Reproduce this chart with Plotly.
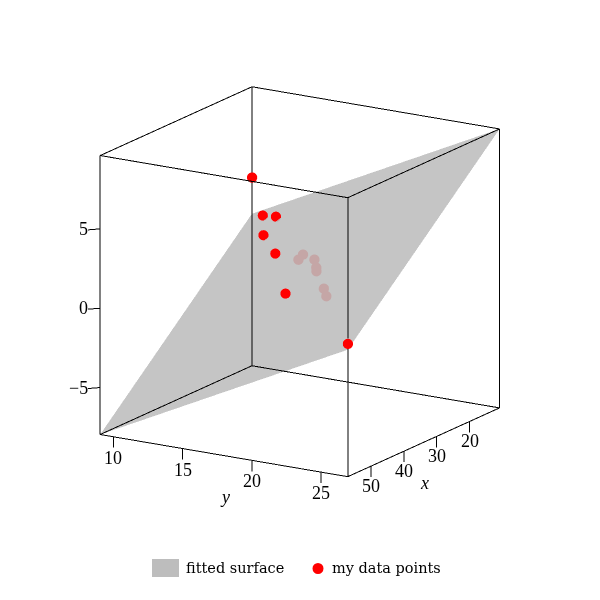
import plotly.graph_objects as go

# the box the chart is drawn in
x0, x1 = 10.95, 57.0
y0, y1 = 9.04, 26.94
z0, z1 = -7.96, 9.62

# tick values
x_ticks = [20, 30, 40, 50]
y_ticks = [10, 15, 20, 25]
z_ticks = [-5, 0, 5]

# surface grid
surf_x = [10.95, 57.0]
surf_y = [9.04, 26.94]
surf_z = [[1.62, -7.96], [9.62, 0.04]]

# data points
pts_x = [10.95, 13.49, 15.04, 19.0, 25.26, 37.36, 57.0, 25.30, 24.37, 26.87, 29.25, 30.28, 35.84, 38.19]
pts_y = [9.04, 10.42, 11.74, 11.78, 14.13, 17.75, 26.94, 15.81, 15.92, 17.34, 18.04, 18.30, 20.16, 20.90]
pts_z = [3.91, 1.96, 2.23, 1.44, 1.22, 0.376, 0.42, 1.09, 1.34, 1.47, 1.29, 1.20, 0.90, 0.756]

# scene ranges leave room for the tick marks outside the box
x_range = [10.85, 59.0]
y_range = [8.4, 27.04]
z_range = [-8.8, 9.72]
K = 0.968
box_side = {"x": x1 - x0, "y": y1 - y0, "z": z1 - z0}
aspect = dict(
    x=K * (x_range[1] - x_range[0]) / box_side["x"],
    y=K * (y_range[1] - y_range[0]) / box_side["y"],
    z=K * (z_range[1] - z_range[0]) / box_side["z"],
)

# offset of the box centre from the scene centre, in scene units
def off(a0, a1, rng, asp):
    return ((a0 + a1) / 2 - (rng[0] + rng[1]) / 2) / (rng[1] - rng[0]) * asp

box_off = (off(x0, x1, x_range, aspect["x"]), off(y0, y1, y_range, aspect["y"]), off(z0, z1, z_range, aspect["z"]))
view = (1.548, 0.949, 0.525)
nudge = (-0.0142, 0.0231, -0.0912)
cam_center = tuple(b + n for b, n in zip(box_off, nudge))
cam_eye = tuple(c + v for c, v in zip(cam_center, view))

SERIF = "Liberation Serif"
TICK_LEN_Z = 0.69
hidden_axis = dict(
    showbackground=False, showgrid=False, zeroline=False, showspikes=False,
    showline=False, ticks="", showticklabels=False, title=dict(text=""),
)

# the twelve edges of the box
box_x, box_y, box_z = [], [], []
for zz in (z0, z1):
    box_x += [x0, x1, x1, x0, x0, None]
    box_y += [y0, y0, y1, y1, y0, None]
    box_z += [zz, zz, zz, zz, zz, None]
for xx, yy in ((x0, y0), (x1, y0), (x1, y1), (x0, y1)):
    box_x += [xx, xx, None]
    box_y += [yy, yy, None]
    box_z += [z0, z1, None]
# tick marks
for v in x_ticks:
    box_x += [v, v, None]
    box_y += [y1, y1, None]
    box_z += [z0, z0 - TICK_LEN_Z, None]
for v in y_ticks:
    box_x += [x1, x1, None]
    box_y += [v, v, None]
    box_z += [z0, z0 - TICK_LEN_Z, None]
for v in z_ticks:
    box_x += [x1, x1 + 1.49, None]
    box_y += [y0, y0 - 0.517, None]
    box_z += [v, v, None]

fig = go.Figure()
fig.add_trace(go.Surface(
    x=surf_x, y=surf_y, z=surf_z, name="fitted surface", showlegend=False,
    colorscale=[[0, "#bdbdbd"], [1, "#bdbdbd"]], showscale=False, opacity=0.88,
    lighting=dict(ambient=1, diffuse=0, specular=0, roughness=1, fresnel=0),
    hoverinfo="skip",
))
fig.add_trace(go.Scatter3d(
    x=box_x, y=box_y, z=box_z, mode="lines", showlegend=False, hoverinfo="skip",
    opacity=0.99, line=dict(color="black", width=2), connectgaps=False,
))
fig.add_trace(go.Scatter3d(
    x=pts_x, y=pts_y, z=pts_z, mode="markers", name="my data points", showlegend=False,
    marker=dict(color="#ff0000", size=6, line=dict(width=0)),
))

tick_font = dict(family=SERIF, size=18, color="black")
scene_notes = []
for v in x_ticks:
    scene_notes.append(dict(x=v, y=y1, z=z0, text=str(v), showarrow=False, yshift=-20,
                            xanchor="center", yanchor="middle", font=tick_font))
for v in y_ticks:
    scene_notes.append(dict(x=x1, y=v, z=z0, text=str(v), showarrow=False, yshift=-21,
                            xanchor="center", yanchor="middle", font=tick_font))
for v in z_ticks:
    scene_notes.append(dict(x=x1, y=y0, z=v, text=str(v).replace("-", "\u2212"), showarrow=False, xshift=-10,
                            xanchor="right", yanchor="middle", font=tick_font))

# the page has an 8 px margin round the plot
def px(x):
    return (x - 8) / 600

def py(y):
    return 1 - (y - 8) / 600

fig.update_layout(
    width=600, height=600, paper_bgcolor="white",
    margin=dict(l=0, r=0, t=0, b=0), showlegend=False,
    font=dict(family=SERIF, color="black"),
    shapes=[
        dict(type="rect", xref="paper", yref="paper", x0=px(152), x1=px(179), y0=py(577), y1=py(559),
             fillcolor="#bdbdbd", line=dict(width=0)),
        dict(type="circle", xref="paper", yref="paper", x0=px(312.5), x1=px(323.5), y0=py(574), y1=py(563),
             fillcolor="#ff0000", line=dict(width=0)),
    ],
    annotations=[
        dict(text="fitted surface", xref="paper", yref="paper", x=px(183.5), y=py(568), xanchor="left", yanchor="middle",
             showarrow=False, font=dict(family="DejaVu Serif", size=14.5, color="black")),
        dict(text="my data points", xref="paper", yref="paper", x=px(329.5), y=py(568), xanchor="left", yanchor="middle",
             showarrow=False, font=dict(family="DejaVu Serif", size=14.5, color="black")),
        dict(text="<i>x</i>", xref="paper", yref="paper", x=px(425), y=py(483), xanchor="center", yanchor="middle",
             showarrow=False, font=dict(family=SERIF, size=18, color="black")),
        dict(text="<i>y</i>", xref="paper", yref="paper", x=px(225), y=py(497), xanchor="center", yanchor="middle",
             showarrow=False, font=dict(family=SERIF, size=18, color="black")),
    ],
    scene=dict(
        domain=dict(x=[0, 1], y=[0, 1]),
        aspectmode="manual", aspectratio=aspect,
        camera=dict(projection=dict(type="orthographic"),
                    eye=dict(x=cam_eye[0], y=cam_eye[1], z=cam_eye[2]),
                    center=dict(x=cam_center[0], y=cam_center[1], z=cam_center[2]),
                    up=dict(x=0, y=0, z=1)),
        xaxis=dict(hidden_axis, range=x_range, tickvals=x_ticks),
        yaxis=dict(hidden_axis, range=y_range, tickvals=y_ticks),
        zaxis=dict(hidden_axis, range=z_range, tickvals=z_ticks),
        annotations=scene_notes,
    ),
)
fig.write_html("out.html")
